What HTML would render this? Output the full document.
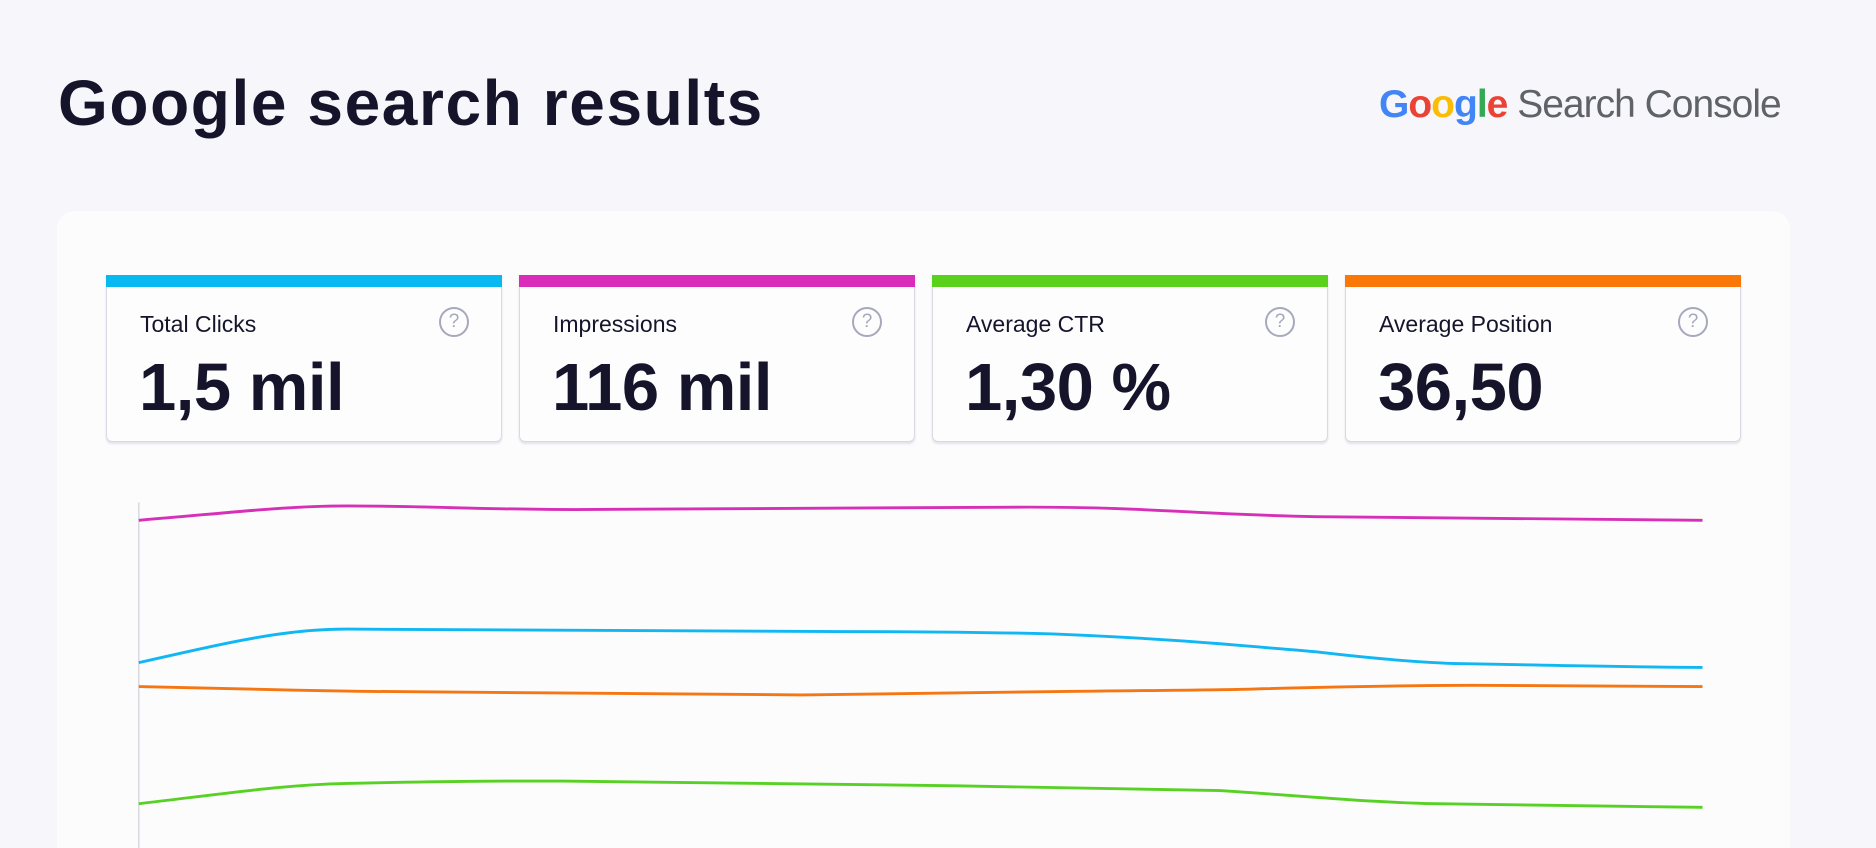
<!DOCTYPE html>
<html><head><meta charset="utf-8"><style>
html,body{margin:0;padding:0;width:1876px;height:848px;overflow:hidden}
body{background:#f7f7fb;position:relative;font-family:"Liberation Sans",sans-serif;color:#15142b}
.title{position:absolute;left:58px;top:66px;font-size:64px;font-weight:bold;letter-spacing:1.6px}
.logo{position:absolute;left:1379px;top:83px;font-size:39px;letter-spacing:-1px;white-space:nowrap}
.logo .g{font-weight:bold;letter-spacing:-1px}
.logo .s{color:#5f6368}
.panel{position:absolute;left:57px;top:211px;width:1733px;height:660px;background:#fcfcfd;border-radius:18px}
.card{position:absolute;top:275px;width:394px;height:166px;background:#fdfdfe;border:1px solid #d9d9e3;border-top:none;border-radius:0 0 6px 6px;box-shadow:0 2px 2px #e2e2ea}
.bar{height:12px;margin:0 -1px}
.lab{position:absolute;left:33px;top:36px;font-size:23px}
.val{position:absolute;left:32px;top:74px;font-size:67px;font-weight:bold;letter-spacing:-0.5px}
.q{position:absolute;right:32px;top:32px;width:26px;height:26px;border:2px solid #a8a8bd;border-radius:50%;color:#a8a8bd;font-size:19px;text-align:center;line-height:26px}
svg{position:absolute;left:0;top:0}
</style></head><body>
<div class="title">Google search results</div>
<div class="logo"><span class="g"><span style="color:#4285f4">G</span><span style="color:#ea4335">o</span><span style="color:#fbbc05">o</span><span style="color:#4285f4">g</span><span style="color:#34a853">l</span><span style="color:#ea4335">e</span></span> <span class="s">Search Console</span></div>
<div class="panel"></div>
<div class="card" style="left:106px"><div class="bar" style="background:#08b8f0"></div><div class="lab">Total Clicks</div><div class="q">?</div><div class="val">1,5 mil</div></div>
<div class="card" style="left:519px"><div class="bar" style="background:#da2cbb"></div><div class="lab">Impressions</div><div class="q">?</div><div class="val">116 mil</div></div>
<div class="card" style="left:932px"><div class="bar" style="background:#5ad21c"></div><div class="lab">Average CTR</div><div class="q">?</div><div class="val">1,30 %</div></div>
<div class="card" style="left:1345px"><div class="bar" style="background:#fa7708"></div><div class="lab">Average Position</div><div class="q">?</div><div class="val">36,50</div></div>
<svg width="1876" height="848" viewBox="0 0 1568 709" preserveAspectRatio="none" fill="none" stroke-width="2.4">
<line x1="116" y1="420" x2="116" y2="709" stroke="#d8d8e0" stroke-width="1.2"/>
<path stroke="#d630b8" d="M116,435 C200,428 240,423 290,423 C360,423 400,426 480,426 C620,426 760,424 860,424 C960,424 1000,430 1100,432 C1250,434 1350,435 1423,435"/>
<path stroke="#10b7f2" d="M116,554 C200,535 240,526 290,526 C450,527 600,528 700,528 C780,528 840,529 880,530 C980,534 1040,540 1100,545 C1160,552 1200,555 1230,555 C1330,557 1380,558 1423,558"/>
<path stroke="#f57612" d="M116,574 C200,576 240,577 300,578 C450,580 580,581 670,581 C780,580 850,579 900,578 C980,577 1020,577 1050,576 C1130,574 1180,573 1230,573 C1330,574 1380,574 1423,574"/>
<path stroke="#57d123" d="M116,672 C200,662 240,656 290,655 C380,653 420,653 470,653 C600,654 700,656 800,657 C900,659 960,660 1020,661 C1110,667 1150,671 1200,672 C1300,674 1380,675 1423,675"/>
</svg>
</body></html>
